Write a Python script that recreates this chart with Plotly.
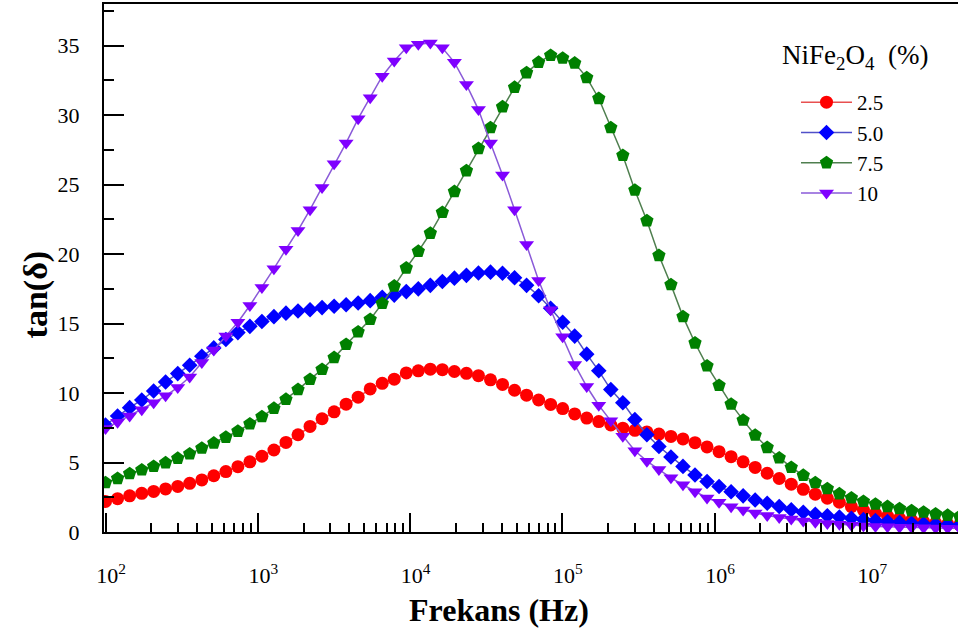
import plotly.graph_objects as go

# Frequency grid (Hz)
FREQ_HZ = [100, 120, 144, 173, 207, 248, 298, 357, 429, 514, 617, 740, 887,
           1064, 1276, 1531, 1837, 2203, 2642, 3170, 3802, 4560, 5470, 6562, 7871, 9441,
           11324, 13583, 16293, 19543, 23442, 28119, 33729, 40458, 48529, 58210, 69823, 83753,
           100460, 120500, 144540, 173380, 207970, 249460, 299230, 358920, 430530, 516420,
           619440, 743020, 891250,
           1069100, 1282300, 1538200, 1845000, 2213100, 2654600, 3184200, 3819400, 4581400,
           5495400, 6591700, 7906800,
           9484200, 11376000, 13646000, 16368000, 19634000, 23550000, 28249000, 33884000, 40644000]

SERIES_NAMES = ["2.5", "5.0", "7.5", "10"]

TAN_2_5 = [2.2, 2.4, 2.6, 2.78, 2.92, 3.1, 3.28, 3.5, 3.75, 4.05, 4.35, 4.7, 5.05,
           5.45, 5.9, 6.45, 7.0, 7.6, 8.15, 8.65, 9.2, 9.7, 10.3, 10.7, 11.0, 11.45,
           11.6, 11.72, 11.68, 11.55, 11.42, 11.25, 10.95, 10.62, 10.2, 9.85, 9.5, 9.18,
           8.88, 8.5, 8.2, 7.95, 7.7, 7.47, 7.32, 7.2, 7.05, 6.88, 6.7, 6.43, 6.12,
           5.78, 5.42, 5.05, 4.65, 4.23, 3.85, 3.44, 3.07, 2.72, 2.43, 2.14, 1.83,
           1.58, 1.35, 1.15, 0.98, 0.85, 0.74, 0.65, 0.58, 0.52]

TAN_5_0 = [7.7, 8.35, 8.95, 9.5, 10.15, 10.8, 11.4, 12.0, 12.65, 13.25, 13.85, 14.35, 14.8,
           15.15, 15.5, 15.75, 15.9, 16.0, 16.15, 16.25, 16.35, 16.48, 16.65, 16.9, 17.05, 17.3,
           17.5, 17.75, 18.03, 18.27, 18.47, 18.64, 18.7, 18.62, 18.3, 17.75, 17.0, 16.1,
           15.1, 14.1, 12.8, 11.6, 10.25, 9.3, 8.1, 7.0, 6.15, 5.4, 4.72, 4.1, 3.63,
           3.27, 2.9, 2.6, 2.3, 2.07, 1.83, 1.6, 1.42, 1.28, 1.17, 1.08, 0.99,
           0.9, 0.82, 0.75, 0.69, 0.63, 0.58, 0.54, 0.5, 0.47]

TAN_7_5 = [3.55, 3.85, 4.2, 4.47, 4.72, 4.98, 5.3, 5.62, 6.03, 6.4, 6.82, 7.25, 7.78,
           8.3, 8.9, 9.55, 10.25, 10.98, 11.7, 12.55, 13.5, 14.4, 15.3, 16.45, 17.7, 19.0,
           20.2, 21.5, 23.0, 24.5, 26.0, 27.6, 29.1, 30.6, 32.0, 33.05, 33.8, 34.3,
           34.1, 33.75, 32.7, 31.2, 29.1, 27.1, 24.6, 22.4, 19.9, 17.8, 15.5, 13.6, 11.95,
           10.55, 9.2, 8.05, 6.97, 6.08, 5.33, 4.65, 4.08, 3.55, 3.12, 2.75, 2.45,
           2.2, 2.0, 1.83, 1.68, 1.53, 1.43, 1.3, 1.2, 1.12]

TAN_10 = [7.45, 7.9, 8.35, 8.8, 9.3, 9.8, 10.4, 11.15, 12.2, 13.1, 14.1, 15.1, 16.3,
          17.6, 18.95, 20.35, 21.7, 23.2, 24.8, 26.5, 28.0, 29.75, 31.25, 32.8, 33.9, 34.85,
          35.1, 35.2, 34.85, 33.8, 32.2, 30.4, 28.0, 25.7, 23.2, 20.7, 18.1, 16.0,
          14.05, 12.05, 10.47, 9.12, 8.0, 6.9, 5.85, 5.1, 4.5, 3.9, 3.4, 2.9, 2.45,
          2.14, 1.82, 1.58, 1.36, 1.18, 1.04, 0.93, 0.8, 0.7, 0.62, 0.55, 0.49,
          0.44, 0.4, 0.37, 0.34, 0.32, 0.3, 0.28, 0.27, 0.26]

X_TICKS = [1e2, 1e3, 1e4, 1e5, 1e6, 1e7]
X_TICK_TEXT = ["\u00a0\u00a010<sup>2</sup>", "\u00a0\u00a010<sup>3</sup>", "\u00a0\u00a010<sup>4</sup>",
               "\u00a0\u00a010<sup>5</sup>", "\u00a0\u00a010<sup>6</sup>", "\u00a0\u00a010<sup>7</sup>"]
Y_TICKS = [0, 5, 10, 15, 20, 25, 30, 35]

MARKER_COLORS = ["#FF0000", "#0000FF", "#008000", "#7F00FF"]
LINE_COLORS = ["#E85050", "#5050C8", "#4F7F4F", "#8A5AD8"]
SYMBOLS = ["circle", "diamond", "pentagon", "triangle-down"]
SIZES = [13, 12, 14, 13]

FONT = "Liberation Serif, Times New Roman, serif"

fig = go.Figure()
for name, vals, mc, lc, sym, sz in zip(SERIES_NAMES, [TAN_2_5, TAN_5_0, TAN_7_5, TAN_10],
                                       MARKER_COLORS, LINE_COLORS, SYMBOLS, SIZES):
    fig.add_trace(go.Scatter(
        x=FREQ_HZ, y=vals, name=name, mode="lines+markers",
        line=dict(color=lc, width=1.5),
        marker=dict(symbol=sym, size=sz, color=mc, line=dict(width=0)),
    ))

fig.update_layout(
    width=958, height=632,
    margin=dict(l=104, r=0, t=4, b=100),
    paper_bgcolor="white", plot_bgcolor="white",
    font=dict(family=FONT, size=22, color="black"),
    showlegend=True,
    legend=dict(
        x=0.8103, y=0.8523, xanchor="left", yanchor="top",
        bgcolor="rgba(0,0,0,0)", borderwidth=0,
        font=dict(family=FONT, size=21, color="black"),
        itemwidth=51,
        tracegroupgap=0,
    ),
    xaxis=dict(
        type="log", range=[1.99, 7.598],
        tickvals=X_TICKS, ticktext=X_TICK_TEXT,
        ticks="inside", ticklen=19, tickwidth=2, tickcolor="black",
        minor=dict(ticks="inside", ticklen=9, tickwidth=2, tickcolor="black",
                   dtick="D1", showgrid=False),
        showline=True, linewidth=2, linecolor="black", mirror=True,
        showgrid=False, zeroline=False,
        ticklabelstandoff=23,
        tickfont=dict(family=FONT, size=22, color="black"),
    ),
    yaxis=dict(
        range=[0, 38], tickvals=Y_TICKS,
        ticks="inside", ticklen=20, tickwidth=2, tickcolor="black",
        minor=dict(ticks="inside", ticklen=10, tickwidth=2, tickcolor="black",
                   dtick=2.5, showgrid=False),
        showline=True, linewidth=2, linecolor="black", mirror=False,
        showgrid=False, zeroline=False,
        ticklabelstandoff=18,
        tickfont=dict(family=FONT, size=22, color="black"),
    ),
    annotations=[
        dict(text="NiFe<sub>2</sub>O<sub>4</sub>  (%)", xref="paper", yref="paper",
             x=0.879, y=0.8996, xanchor="center", yanchor="middle",
             showarrow=False, font=dict(family=FONT, size=27, color="black")),
        dict(text="<b>Frekans (Hz)</b>", xref="paper", yref="paper",
             x=0.4625, y=-0.148, xanchor="center", yanchor="middle",
             showarrow=False, font=dict(family=FONT, size=32, color="black")),
        dict(text="<b>tan(δ)</b>", xref="paper", yref="paper",
             x=-0.0796, y=0.45, xanchor="center", yanchor="middle", textangle=-90,
             showarrow=False, font=dict(family=FONT, size=34, color="black")),
    ],
)

fig.write_html("out.html")
